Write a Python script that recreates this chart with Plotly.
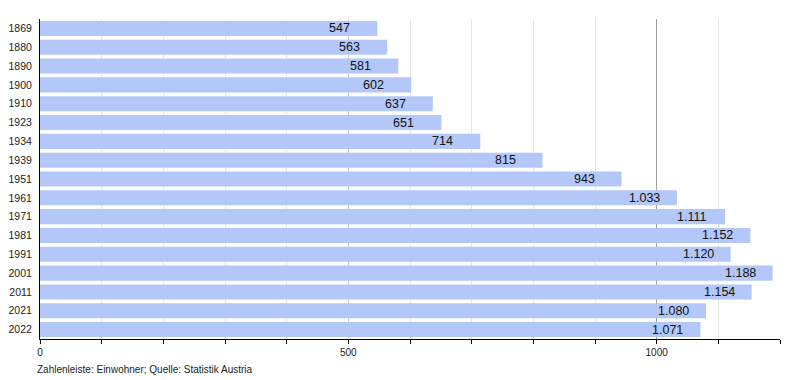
import plotly.graph_objects as go

years = ["1869", "1880", "1890", "1900", "1910", "1923", "1934", "1939", "1951",
         "1961", "1971", "1981", "1991", "2001", "2011", "2021", "2022"]
population = [547, 563, 581, 602, 637, 651, 714, 815, 943,
              1033, 1111, 1152, 1120, 1188, 1154, 1080, 1071]
labels = [f"{v:,}".replace(",", ".") for v in population]

tick_vals = list(range(0, 1201, 100))
tick_text = [str(v) if v in (0, 500, 1000) else "" for v in tick_vals]

FONT = "Liberation Sans, Arial, sans-serif"
L, R, T, B = 40, 20, 19, 41
W, H = 800, 380

fig = go.Figure()
fig.add_trace(go.Bar(
    x=population, y=years, orientation="h",
    marker=dict(color="#b3c7f9", line=dict(width=0)),
    hoverinfo="x+y",
))
# overlay axes for the medium (500) and dark (1000) grid lines
for ax in ("x2", "x3"):
    fig.add_trace(go.Scatter(x=[0], y=[years[0]], xaxis=ax, mode="markers",
                             marker=dict(opacity=0), showlegend=False, hoverinfo="skip"))

# value labels: left edge 50px before the bar end (y given as category index)
annotations = [
    dict(x=v, y=i, xref="x", yref="y", text=t, showarrow=False,
         xanchor="left", yanchor="middle", xshift=-50,
         font=dict(family=FONT, size=12.5, color="#111"))
    for i, (v, t) in enumerate(zip(population, labels))
]
annotations.append(dict(
    text="Zahlenleiste: Einwohner; Quelle: Statistik Austria",
    x=(35 - L) / (W - L - R), y=-(369 - (H - B)) / (H - T - B),
    xref="paper", yref="paper", showarrow=False,
    font=dict(family=FONT, size=10, color="#222"), xanchor="left", yanchor="middle"))

overlay = dict(range=[0, 1200], overlaying="x", showticklabels=False, ticks="",
               showline=False, zeroline=False, layer="below traces", automargin=False,
               showgrid=True)

fig.update_layout(
    width=W, height=H,
    margin=dict(l=L, r=R, t=T, b=B),
    plot_bgcolor="white", paper_bgcolor="white",
    showlegend=False, bargap=0.2,
    font=dict(family=FONT, size=10, color="#222"),
    xaxis=dict(range=[0, 1200], tickvals=tick_vals, ticktext=tick_text,
               showgrid=True, gridcolor="#e6e6e6", gridwidth=1,
               showline=True, linecolor="black", linewidth=1,
               ticks="outside", ticklen=4, tickcolor="black",
               tickfont=dict(size=10), zeroline=False, layer="below traces",
               automargin=False),
    xaxis2=dict(overlay, tickvals=[500], gridcolor="#cccccc"),
    xaxis3=dict(overlay, tickvals=[1000], gridcolor="#a0a0a0"),
    yaxis=dict(type="category", range=[len(years) - 0.5, -0.5],
               showline=True, linecolor="black", linewidth=1,
               ticks="", tickfont=dict(size=10.5), ticklabelstandoff=5,
               showgrid=False, automargin=False, zeroline=False),
    annotations=annotations,
)

fig.write_html("out.html", config={"displayModeBar": False},
               post_script="document.body.style.margin='0';document.body.style.overflow='hidden';")
